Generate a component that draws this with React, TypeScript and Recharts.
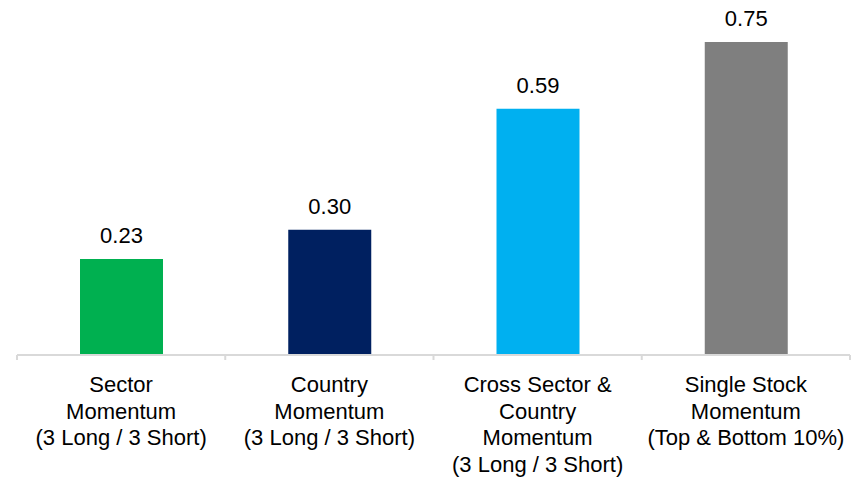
import React from 'react';
import { BarChart, Bar, XAxis, YAxis, Cell, LabelList } from 'recharts';

const categories = [
  ['Sector', 'Momentum', '(3 Long / 3 Short)'],
  ['Country', 'Momentum', '(3 Long / 3 Short)'],
  ['Cross Sector &', 'Country', 'Momentum', '(3 Long / 3 Short)'],
  ['Single Stock', 'Momentum', '(Top & Bottom 10%)'],
];
const values = [0.23, 0.3, 0.59, 0.75];
const colors = ['#00b050', '#002060', '#00b0f0', '#7f7f7f'];

const data = categories.map((lines, i) => ({
  name: lines.join(' '),
  lines,
  value: values[i],
}));

const FONT = '"Liberation Sans", Arial, sans-serif';

function CategoryTick(props: any) {
  const { x, y, index, payload } = props;
  const half = payload?.offset || 104.125;
  const lines = categories[index] || [];
  return (
    <g>
      <line x1={x - half} y1={y} x2={x - half} y2={y + 5} stroke="#d9d9d9" strokeWidth={2} />
      {index === categories.length - 1 && (
        <line x1={x + half} y1={y} x2={x + half} y2={y + 5} stroke="#d9d9d9" strokeWidth={2} />
      )}
      <text x={x} y={y} textAnchor="middle" fontFamily={FONT} fontSize={22} fill="#000">
        {lines.map((l: string, i: number) => (
          <tspan key={i} x={x} y={y + 37 + i * 26.5}>
            {l}
          </tspan>
        ))}
      </text>
    </g>
  );
}

function ValueLabel(props: any) {
  const { x, y, width, value } = props;
  return (
    <text
      x={x + width / 2}
      y={y - 16}
      textAnchor="middle"
      fontFamily={FONT}
      fontSize={22}
      fill="#000"
    >
      {Number(value).toFixed(2)}
    </text>
  );
}

export default function App() {
  return (
    <div style={{ position: 'absolute', left: 0, top: 0, background: '#fff' }}>
      <BarChart
        width={861}
        height={478}
        data={data}
        margin={{ top: 42, right: 11, left: 17, bottom: 0 }}
        barCategoryGap="0%"
      >
        <YAxis hide domain={[0, 0.75]} />
        <XAxis
          dataKey="name"
          height={123}
          interval={0}
          axisLine={{ stroke: '#d9d9d9', strokeWidth: 2 }}
          tickLine={false}
          tickSize={0}
          tickMargin={0}
          tick={<CategoryTick />}
        />
        <Bar dataKey="value" barSize={83} isAnimationActive={false}>
          {data.map((d, i) => (
            <Cell key={d.name} fill={colors[i]} />
          ))}
          <LabelList dataKey="value" content={<ValueLabel />} />
        </Bar>
      </BarChart>
    </div>
  );
}
